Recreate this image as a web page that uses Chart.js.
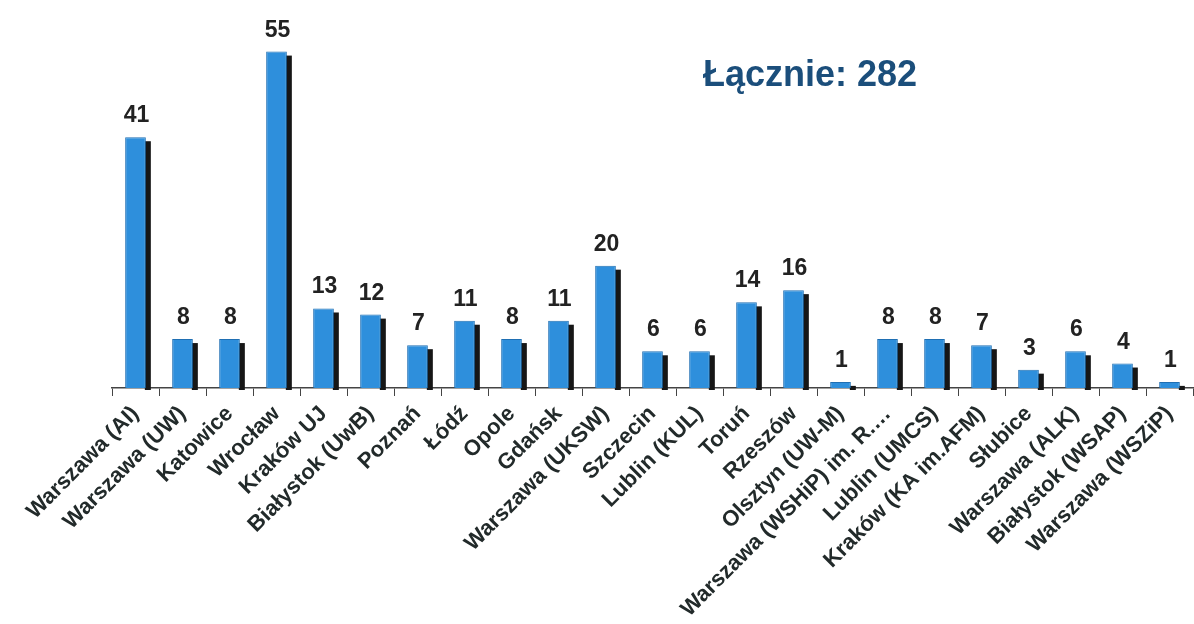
<!DOCTYPE html>
<html>
<head>
<meta charset="utf-8">
<script src="https://cdn.jsdelivr.net/npm/chart.js@4/dist/chart.umd.min.js"></script>
<style>
html,body{margin:0;padding:0;background:#fff;}
#wrap{position:relative;width:1194px;height:624px;}
</style>
</head>
<body>
<div id="wrap"><canvas id="c" width="1194" height="624"></canvas></div>
<script>
const categories = ["Warszawa (AI)","Warszawa (UW)","Katowice","Wrocław","Kraków UJ","Białystok (UwB)","Poznań","Łódź","Opole","Gdańsk","Warszawa (UKSW)","Szczecin","Lublin (KUL)","Toruń","Rzeszów","Olsztyn (UW-M)","Warszawa (WSHiP) im. R.…","Lublin (UMCS)","Kraków (KA im.AFM)","Słubice","Warszawa (ALK)","Białystok (WSAP)","Warszawa (WSZiP)"];
const values = [41,8,8,55,13,12,7,11,8,11,20,6,6,14,16,1,8,8,7,3,6,4,1];
const totalLabel = "Łącznie: 282";

const shadowPlugin = {
  id:'shadow',
  beforeDatasetsDraw(chart){
    const ctx=chart.ctx; const meta=chart.getDatasetMeta(0);
    ctx.save();
    ctx.fillStyle='#161616';
    meta.data.forEach(b=>{
      const right=b.x+b.width/2;
      ctx.fillRect(right-1, b.y+4, 6, b.base-b.y-2);
    });
    ctx.restore();
  }
};
const labelPlugin = {
  id:'vals',
  afterDatasetsDraw(chart){
    const ctx=chart.ctx; const meta=chart.getDatasetMeta(0);
    ctx.save();
    ctx.font='bold 23px "Liberation Sans", Arial, sans-serif';
    ctx.fillStyle='#222'; ctx.textAlign='center'; ctx.textBaseline='alphabetic';
    meta.data.forEach((b,i)=>{ ctx.fillText(String(values[i]), b.x+1, b.y-15); });
    ctx.font='bold 36px "Liberation Sans", Arial, sans-serif';
    ctx.fillStyle='#1b4e7b';
    ctx.fillText(totalLabel, 810, 86);
    ctx.restore();
  }
};

new Chart(document.getElementById('c'), {
  type:'bar',
  data:{labels:categories, datasets:[{data:values, backgroundColor:'#2e8fdc', borderColor:'#1f6fb3', borderWidth:1, barPercentage:0.44, categoryPercentage:1}]},
  options:{
    responsive:false, animation:false,
    layout:{padding:{left:112, top:21, right:1, bottom:0}},
    plugins:{legend:{display:false}, tooltip:{enabled:false}},
    scales:{
      y:{display:false, min:0, max:60},
      x:{
        grid:{display:true, drawOnChartArea:false, offset:true, tickLength:8, color:'#444'},
        border:{display:true, color:'#444', width:1.5},
        afterFit(s){ s.height = 236; s.paddingLeft = 0; s.paddingRight = 0; },
        ticks:{autoSkip:false, minRotation:45, maxRotation:45, padding:5, color:'#222a2a',
          font:{family:'"Liberation Sans", Arial, sans-serif', size:22, weight:'bold'}}
      }
    }
  },
  plugins:[shadowPlugin,labelPlugin]
});
</script>
</body>
</html>
